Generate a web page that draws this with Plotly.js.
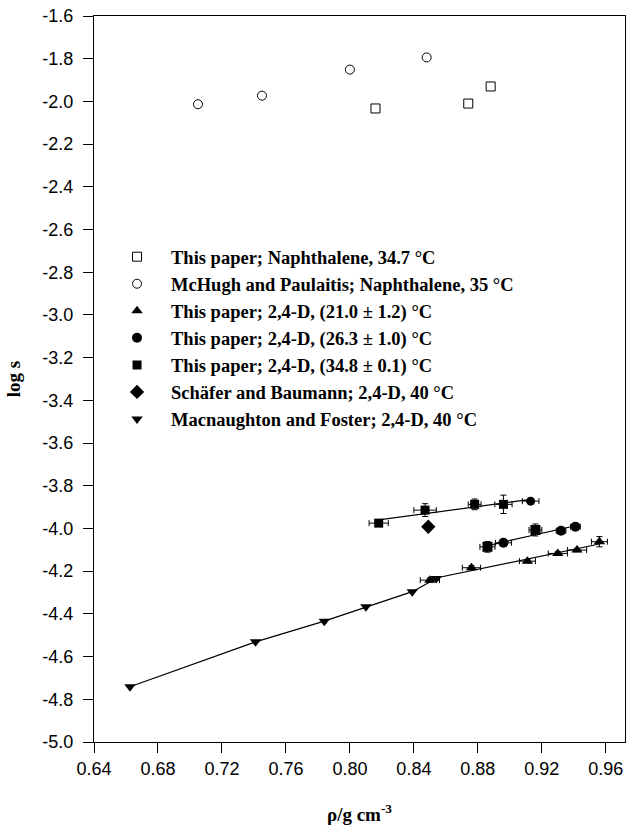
<!DOCTYPE html>
<html><head><meta charset="utf-8">
<script src="https://cdn.plot.ly/plotly-3.0.1.min.js"></script>
<style>html,body{margin:0;padding:0;background:#fff}</style>
</head><body><div id="chart" style="width:628px;height:825px"></div>
<script>
// Naphthalene, this paper, 34.7 °C (open squares)
const naphX = [0.816, 0.874, 0.888];
const naphY = [-2.033, -2.010, -1.930];
// McHugh and Paulaitis, naphthalene 35 °C (open circles)
const mchughX = [0.705, 0.745, 0.800, 0.848];
const mchughY = [-2.013, -1.973, -1.851, -1.794];
// 2,4-D this paper, 21.0 °C (triangles)
const d21X = [0.850, 0.876, 0.911, 0.930, 0.942, 0.956];
const d21Y = [-4.242, -4.184, -4.153, -4.117, -4.101, -4.062];
const d21Xerr = [0.006, 0.0057, 0.005, 0.006, 0.006, 0.005];
const d21Yerr = [0.010, 0.010, 0.008, 0.008, 0.008, 0.024];
// 2,4-D this paper, 26.3 °C (circles)
const d26X = [0.896, 0.886, 0.916, 0.932, 0.941];
const d26Y = [-4.067, -4.086, -4.007, -4.011, -3.992];
const d26Xerr = [0.005, 0.0047, 0.004, 0.003, 0.003];
const d26Yerr = [0.0, 0.025, 0.028, 0.0, 0.0];
const d26Sym = ['circle', 'square', 'square', 'circle', 'circle'];
// 2,4-D this paper, 34.8 °C (squares)
const d35X = [0.818, 0.847, 0.878, 0.896, 0.913];
const d35Y = [-3.975, -3.914, -3.887, -3.887, -3.872];
const d35Xerr = [0.006, 0.007, 0.004, 0.0054, 0.0052];
const d35Yerr = [0.010, 0.030, 0.025, 0.043, 0.0];
const d35Sym = ['square', 'square', 'square', 'square', 'circle'];
// Schäfer and Baumann, 40 °C (diamond)
const schX = [0.849];
const schY = [-3.992];
// Macnaughton and Foster, 40 °C (inverted triangles)
const macX = [0.6625, 0.741, 0.784, 0.810, 0.839, 0.854];
const macY = [-4.741, -4.531, -4.434, -4.367, -4.296, -4.234];

const labels = [
  'This paper; Naphthalene, 34.7 °C',
  'McHugh and Paulaitis; Naphthalene, 35 °C',
  'This paper; 2,4-D, (21.0 ± 1.2) °C',
  'This paper; 2,4-D, (26.3 ± 1.0) °C',
  'This paper; 2,4-D, (34.8 ± 0.1) °C',
  'Schäfer and Baumann; 2,4-D, 40 °C',
  'Macnaughton and Foster; 2,4-D, 40 °C'
];
const xTickVals = [0.64, 0.68, 0.72, 0.76, 0.80, 0.84, 0.88, 0.92, 0.96];
const xTickText = ['0.64', '0.68', '0.72', '0.76', '0.80', '0.84', '0.88', '0.92', '0.96'];
const yTickVals = [-5.0, -4.8, -4.6, -4.4, -4.2, -4.0, -3.8, -3.6, -3.4, -3.2, -3.0, -2.8, -2.6, -2.4, -2.2, -2.0, -1.8, -1.6];
const yTickText = ['-5.0', '-4.8', '-4.6', '-4.4', '-4.2', '-4.0', '-3.8', '-3.6', '-3.4', '-3.2', '-3.0', '-2.8', '-2.6', '-2.4', '-2.2', '-2.0', '-1.8', '-1.6'];

function fitLine(xs, ys) {
  const n = xs.length;
  const mx = xs.reduce((a, b) => a + b, 0) / n;
  const my = ys.reduce((a, b) => a + b, 0) / n;
  let sxy = 0, sxx = 0;
  for (let i = 0; i < n; i++) { sxy += (xs[i] - mx) * (ys[i] - my); sxx += (xs[i] - mx) ** 2; }
  const b = sxy / sxx, a = my - b * mx;
  const x0 = Math.min(...xs), x1 = Math.max(...xs);
  return { x: [x0, x1], y: [a + b * x0, a + b * x1] };
}

const lineStyle = { color: 'black', width: 1.2 };
const f21 = fitLine(d21X, d21Y), f26 = fitLine(d26X, d26Y), f35 = fitLine(d35X, d35Y);
const errStyle = (arr) => ({ type: 'data', array: arr, color: 'black', thickness: 1, width: 3, visible: true });

const traces = [
  { x: f21.x, y: f21.y, mode: 'lines', line: lineStyle, showlegend: false, hoverinfo: 'skip' },
  { x: f26.x, y: f26.y, mode: 'lines', line: lineStyle, showlegend: false, hoverinfo: 'skip' },
  { x: f35.x, y: f35.y, mode: 'lines', line: lineStyle, showlegend: false, hoverinfo: 'skip' },
  { x: macX, y: macY, mode: 'lines', line: lineStyle, showlegend: false, hoverinfo: 'skip' },
  { x: naphX, y: naphY, mode: 'markers', name: labels[0], legendgroup: 'g0',
    marker: { symbol: 'square-open', size: 9, color: 'black', line: { width: 1, color: 'black' } } },
  { x: mchughX, y: mchughY, mode: 'markers', name: labels[1], legendgroup: 'g1',
    marker: { symbol: 'circle-open', size: 9, color: 'black', line: { width: 1, color: 'black' } } },
  { x: d21X, y: d21Y, mode: 'markers', name: labels[2], legendgroup: 'g2',
    error_x: errStyle(d21Xerr), error_y: errStyle(d21Yerr),
    marker: { symbol: 'triangle-up', size: 10, color: 'black' } },
  { x: d26X, y: d26Y, mode: 'markers', name: labels[3], legendgroup: 'g3',
    error_x: errStyle(d26Xerr), error_y: errStyle(d26Yerr),
    marker: { symbol: d26Sym, size: 10, color: 'black' } },
  { x: d35X, y: d35Y, mode: 'markers', name: labels[4], legendgroup: 'g4',
    error_x: errStyle(d35Xerr), error_y: errStyle(d35Yerr),
    marker: { symbol: d35Sym, size: 9, color: 'black' } },
  { x: schX, y: schY, mode: 'markers', name: labels[5], legendgroup: 'g5',
    marker: { symbol: 'diamond', size: 11, color: 'black' } },
  { x: macX, y: macY, mode: 'markers', name: labels[6], legendgroup: 'g6',
    marker: { symbol: 'triangle-down', size: 10, color: 'black' } }
];

const tickFont = { family: 'Liberation Sans, Arial, sans-serif', size: 18, color: 'black' };
const titleFont = { family: 'Liberation Serif, Times New Roman, serif', size: 19, color: 'black', weight: 'bold' };

const layout = {
  width: 628, height: 825,
  margin: { l: 94, r: 3, t: 16, b: 83 },
  paper_bgcolor: 'white', plot_bgcolor: 'white',
  showlegend: true,
  legend: {
    x: 0.017, y: 0.694, xanchor: 'left', yanchor: 'top',
    bgcolor: 'rgba(0,0,0,0)', borderwidth: 0,
    font: { family: 'Liberation Serif, Times New Roman, serif', size: 18.5, color: 'black', weight: 'bold' },
    traceorder: 'grouped', tracegroupgap: 0, itemwidth: 58
  },
  xaxis: {
    range: [0.64, 0.972], showgrid: false, zeroline: false,
    showline: true, mirror: true, linecolor: 'black', linewidth: 1,
    ticks: 'outside', ticklen: 10, tickwidth: 1, tickcolor: 'black',
    tickvals: xTickVals, ticktext: xTickText, tickfont: tickFont,
    title: { text: 'ρ/g cm<sup>-3</sup>', font: titleFont, standoff: 31 }
  },
  yaxis: {
    range: [-5.0, -1.6], showgrid: false, zeroline: false,
    showline: true, mirror: true, linecolor: 'black', linewidth: 1,
    ticks: 'outside', ticklen: 10, tickwidth: 1, tickcolor: 'black',
    tickvals: yTickVals, ticktext: yTickText, tickfont: tickFont, ticklabelstandoff: 6,
    title: { text: 'log s', font: titleFont, standoff: 16 }
  }
};

Plotly.newPlot('chart', traces, layout, { displayModeBar: false, staticPlot: true });
</script>
</body></html>
